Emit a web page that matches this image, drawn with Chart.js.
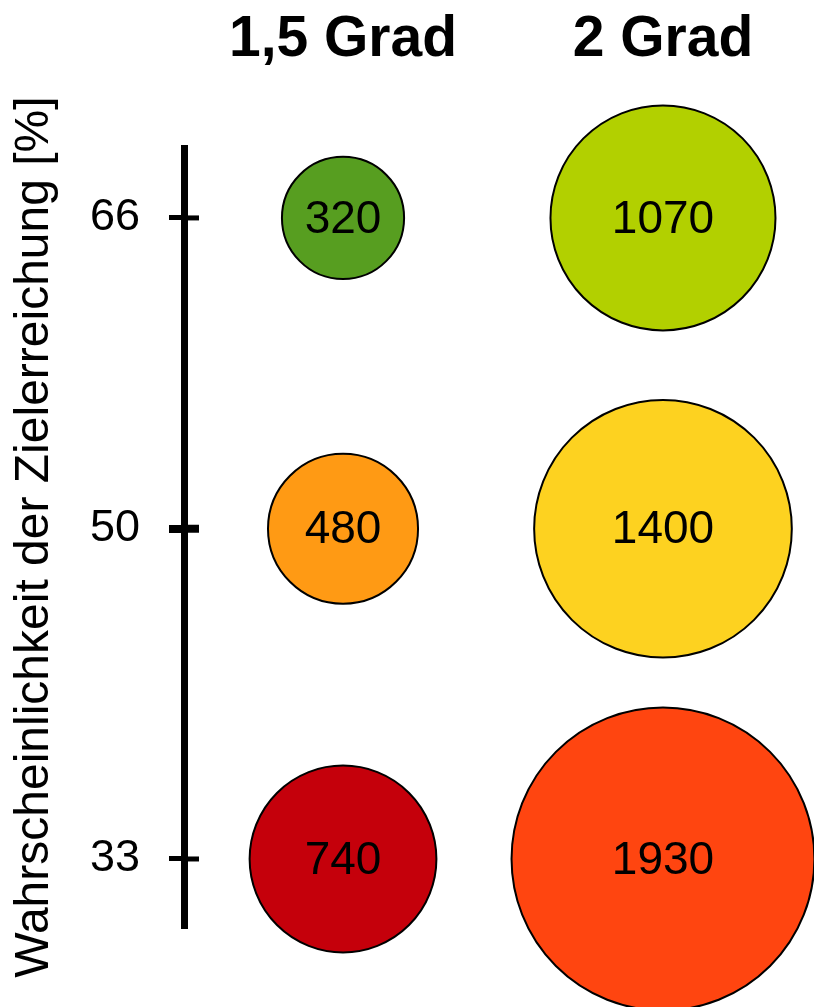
<!DOCTYPE html>
<html>
<head>
<meta charset="utf-8">
<script src="https://cdn.jsdelivr.net/npm/chart.js@4.4.1/dist/chart.umd.min.js"></script>
<style>
  html, body { margin: 0; padding: 0; background: #ffffff; }
  canvas { display: block; }
</style>
</head>
<body>
<canvas id="chart" width="814" height="1007"></canvas>
<script>
// Warming targets (columns) and probability levels (rows)
const targets = ['1,5 Grad', '2 Grad'];
const probabilities = [66, 50, 33];

// Remaining budget per target, one value per probability level
const budget15 = [320, 480, 740];
const budget20 = [1070, 1400, 1930];

// Fill colours per bubble, same order as the probability levels
const colors15 = ['#579e20', '#ff9a14', '#c5000b'];
const colors20 = ['#b2d000', '#fdd220', '#ff4510'];

const FONT = '"Liberation Sans", Arial, sans-serif';
const BORDER = 2;
// bubble area proportional to the value
const radiusFor = v => 3.47 * Math.sqrt(v) - BORDER / 2;

function points(col, values) {
  return values.map((v, i) => ({ x: col, y: probabilities[i], r: radiusFor(v), value: v }));
}

// keep the plot area fixed: no extra room for edge labels
function noLabelPadding(s) {
  s.paddingTop = 0;
  s.paddingBottom = 0;
  s.paddingLeft = 0;
  s.paddingRight = 0;
}

// Value text centred in each bubble
const bubbleLabels = {
  id: 'bubbleLabels',
  afterDatasetsDraw(chart) {
    const ctx = chart.ctx;
    ctx.save();
    ctx.font = '46px ' + FONT;
    ctx.fillStyle = '#000';
    ctx.textAlign = 'center';
    ctx.textBaseline = 'middle';
    chart.data.datasets.forEach((ds, di) => {
      chart.getDatasetMeta(di).data.forEach((el, i) => {
        ctx.fillText(String(ds.data[i].value), el.x, el.y + 2);
      });
    });
    ctx.restore();
  }
};

// Tick marks continue to the right of the axis line
const crossTicks = {
  id: 'crossTicks',
  afterDraw(chart) {
    const y = chart.scales.y;
    const ctx = chart.ctx;
    const x0 = chart.chartArea.left;
    ctx.save();
    ctx.strokeStyle = '#000';
    probabilities.forEach(p => {
      const py = y.getPixelForValue(p);
      ctx.lineWidth = p === 50 ? 8 : 5;
      ctx.beginPath();
      ctx.moveTo(x0, py);
      ctx.lineTo(x0 + 15, py);
      ctx.stroke();
    });
    ctx.restore();
  }
};

new Chart(document.getElementById('chart'), {
  type: 'bubble',
  data: {
    datasets: [
      { label: targets[0], data: points(0, budget15), backgroundColor: colors15,
        borderColor: '#000', borderWidth: BORDER, clip: false },
      { label: targets[1], data: points(1, budget20), backgroundColor: colors20,
        borderColor: '#000', borderWidth: BORDER, clip: false }
    ]
  },
  options: {
    responsive: false,
    animation: false,
    devicePixelRatio: 1,
    layout: { padding: { top: 0, left: 0, right: 0, bottom: 81 }, autoPadding: false },
    plugins: { legend: { display: false }, tooltip: { enabled: false } },
    elements: { point: { hoverRadius: 0, hoverBorderWidth: BORDER } },
    scales: {
      x: {
        type: 'linear',
        position: 'top',
        min: -0.497,
        max: 1.472,
        afterFit(s) { s.height = 148; noLabelPadding(s); },
        afterBuildTicks(s) { s.ticks = targets.map((t, i) => ({ value: i })); },
        grid: { display: false, drawTicks: false },
        border: { display: false },
        ticks: {
          autoSkip: false,
          maxRotation: 0,
          minRotation: 0,
          padding: 74,
          color: '#000',
          font: { family: FONT, size: 57, weight: 'bold' },
          callback: v => targets[v]
        }
      },
      y: {
        type: 'linear',
        position: 'left',
        min: 29.55,
        max: 69.6,
        afterFit(s) { s.width = 184; noLabelPadding(s); },
        afterBuildTicks(s) { s.ticks = probabilities.map(p => ({ value: p })); },
        grid: {
          drawOnChartArea: false,
          drawTicks: true,
          tickLength: 15,
          color: '#000',
          lineWidth: c => (c.tick && c.tick.value === 50) ? 8 : 5
        },
        border: { display: true, color: '#000', width: 7 },
        ticks: {
          padding: 29,
          color: '#000',
          font: { family: FONT, size: 45 },
          callback: v => String(v)
        },
        title: {
          display: true,
          text: 'Wahrscheinlichkeit der Zielerreichung [%]',
          color: '#000',
          font: { family: FONT, size: 48 },
          padding: { top: 6, bottom: 0 }
        }
      }
    }
  },
  plugins: [bubbleLabels, crossTicks]
});
</script>
</body>
</html>
